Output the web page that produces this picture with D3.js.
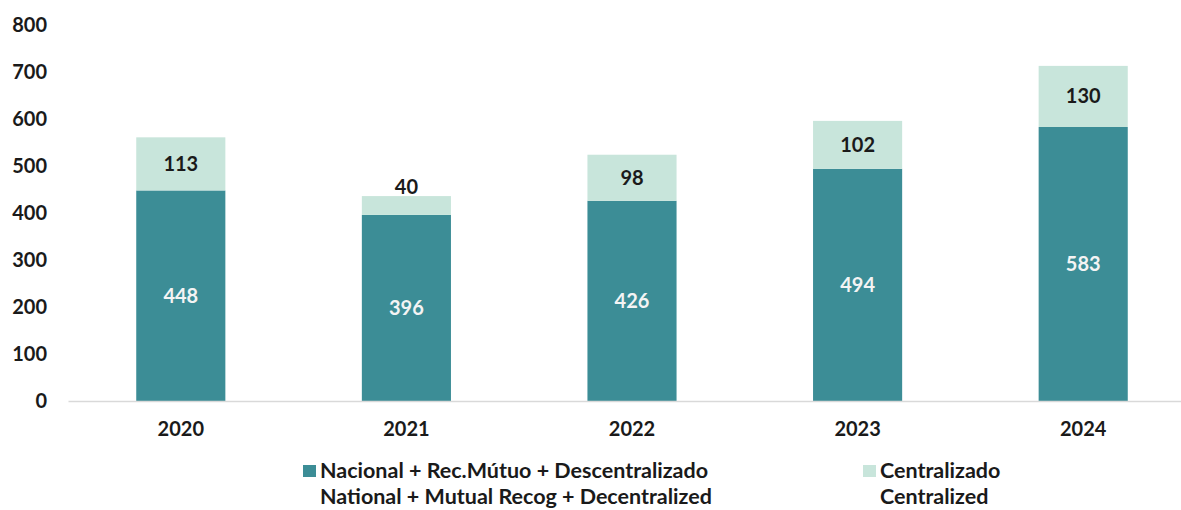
<!DOCTYPE html>
<html>
<head>
<meta charset="utf-8">
<script src="https://cdnjs.cloudflare.com/ajax/libs/d3/7.8.5/d3.min.js"></script>
<style>
  body { margin: 0; background: #fff; }
  text { font-family: Lato, "Open Sans", sans-serif; font-weight: bold; }
</style>
</head>
<body>
<div id="graph"></div>
<script>
var years = ["2020", "2021", "2022", "2023", "2024"];
var nacional = [448, 396, 426, 494, 583];
var centralizado = [113, 40, 98, 102, 130];
var yTicks = [0, 100, 200, 300, 400, 500, 600, 700, 800];
var legendPt = ["Nacional + Rec.Mútuo + Descentralizado", "Centralizado"];
var legendEn = ["National + Mutual Recog + Decentralized", "Centralized"];

var width = 1181;
var height = 510;
var colors = ["#3c8d96", "#c8e5db"];

var svg = d3.select("#graph").
append("svg").
attr("width", width).
attr("height", height);

var xScale = d3.scaleBand().
domain(years).
range([68, 1196]).
paddingInner(0.605).
paddingOuter(0.3025);

var yScale = d3.scaleLinear().
domain([0, 800]).
range([401, 25]);

// y labels only, no axis line
var yAxis = d3.axisLeft(yScale).tickValues(yTicks).tickSize(0).tickPadding(0);
var gy = svg.append("g").
attr("transform", "translate(47,0)").
call(yAxis);
gy.select(".domain").remove();
gy.selectAll("text").
style("font-size", "20px").
style("font-family", "Lato").
style("font-weight", "bold").
attr("fill", "#1a1a1a");

// stacked rows
var rows = years.map(function (y, i) {
  return { year: y, nacional: nacional[i], centralizado: centralizado[i] };
});
var stack = d3.stack().keys(["nacional", "centralizado"]);
var series = stack(rows);

svg.selectAll("g.series").
data(series).
enter().
append("g").
attr("class", "series").
attr("fill", function (d, i) {return colors[i];}).
selectAll("rect").
data(function (d) {return d;}).
enter().
append("rect").
attr("x", function (d) {return xScale(d.data.year);}).
attr("y", function (d) {return yScale(d[1]);}).
attr("width", xScale.bandwidth()).
attr("height", function (d) {return yScale(d[0]) - yScale(d[1]);});

// x axis
var xAxis = d3.axisBottom(xScale).tickSize(0).tickPadding(21);
var gx = svg.append("g").
attr("transform", "translate(0,401)").
call(xAxis);
gx.select(".domain").attr("stroke", "#d9d9d9").attr("stroke-width", 1.5);
gx.selectAll("text").
style("font-size", "20px").
style("font-family", "Lato").
style("font-weight", "bold").
attr("fill", "#1a1a1a");

// value labels
series.forEach(function (s, si) {
  svg.selectAll(null).
  data(s).
  enter().
  append("text").
  attr("x", function (d) {return xScale(d.data.year) + xScale.bandwidth() / 2;}).
  attr("y", function (d) {
    var top = yScale(d[1]);
    var bottom = yScale(d[0]);
    if (bottom - top < 25) return top - 9;
    return (top + bottom) / 2;
  }).
  attr("dy", "0.35em").
  attr("text-anchor", "middle").
  style("font-size", "20px").
  attr("fill", si === 0 ? "#f4f4f4" : "#1a1a1a").
  text(function (d) {return d[1] - d[0];});
});

// legend
var legendX = [303, 863];
legendPt.forEach(function (t, i) {
  var g = svg.append("g").attr("class", "legend");
  g.append("rect").
  attr("x", legendX[i]).
  attr("y", 465).
  attr("width", 13).
  attr("height", 12).
  attr("fill", colors[i]);
  g.append("text").
  attr("x", legendX[i] + 17).
  attr("y", 478).
  style("font-size", "21.5px").
  attr("fill", "#1a1a1a").
  text(t);
  g.append("text").
  attr("x", legendX[i] + 17).
  attr("y", 504).
  style("font-size", "21.5px").
  attr("fill", "#1a1a1a").
  text(legendEn[i]);
});
</script>
</body>
</html>
